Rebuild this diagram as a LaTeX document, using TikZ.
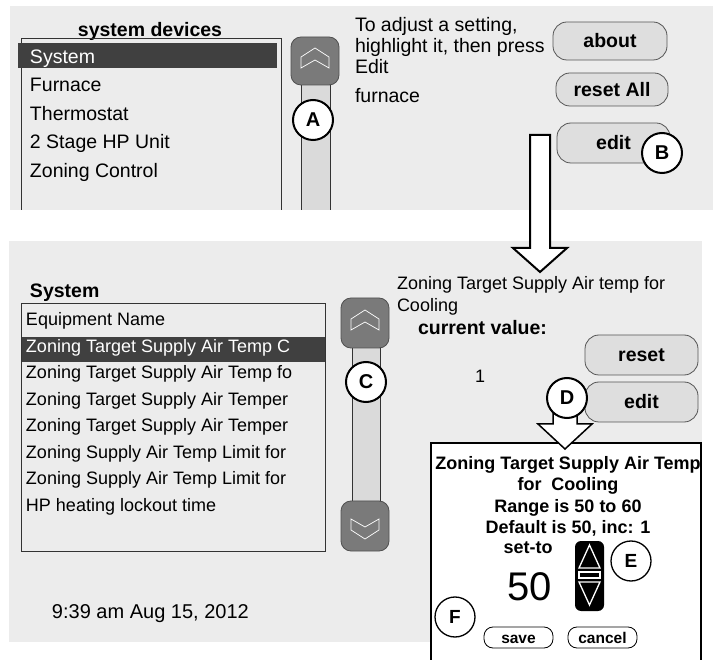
\documentclass[tikz,border=0pt]{standalone}
\usepackage{fontspec}
\setmainfont{Liberation Sans}
\definecolor{panel}{HTML}{ECECEC}
\definecolor{selbar}{HTML}{404040}
\definecolor{btnfill}{HTML}{DEDEDE}
\definecolor{btnline}{HTML}{555555}
\definecolor{sbfill}{HTML}{7A7A7A}
\definecolor{sbline}{HTML}{505050}
\definecolor{trackfill}{HTML}{DADADA}
\definecolor{boxline}{HTML}{333333}
\begin{document}
\begin{tikzpicture}[x=1pt,y=-1pt,
  every node/.style={inner sep=0pt, outer sep=0pt},
  regA/.style={font=\fontsize{19.5}{21}\selectfont, anchor=base west},
  regB/.style={font=\fontsize{18}{21}\selectfont, anchor=base west},
  boldtitle/.style={font=\fontsize{19.5}{23}\selectfont\bfseries},
  dlgtext/.style={font=\fontsize{18}{21}\selectfont\bfseries, anchor=base},
  btn/.style={draw=btnline, fill=btnfill, line width=0.8pt, rounded corners=14pt,
    font=\fontsize{19.5}{23}\selectfont\bfseries, text height=14pt, text depth=0pt},
  smallbtn/.style={draw=black, fill=white, line width=0.8pt, rounded corners=9pt,
    font=\fontsize{15.5}{18}\selectfont\bfseries, text height=11pt, text depth=0pt,
    minimum width=69pt, minimum height=21pt},
  sbtn/.style={draw=sbline, fill=sbfill, line width=0.8pt, rounded corners=10pt,
    minimum width=48pt},
  chev/.style={draw=white, line width=0.7pt, line join=miter},
  trackline/.style={draw=boxline, line width=1pt},
  tag/.style={circle, draw=black, fill=white, line width=2pt, minimum size=40pt,
    font=\fontsize{20}{24}\selectfont\bfseries},
  tagthin/.style={tag, line width=1.3pt, font=\fontsize{19}{23}\selectfont\bfseries},
  bigarrow/.style={draw=black, fill=white, line width=2pt, line join=miter},
]
\useasboundingbox (0,0) rectangle (713,660);

% ---------- top screen ----------
\fill[panel] (10,6) rectangle (713,210);
\node[boldtitle, anchor=base] (title1) at (150,37) {system devices};
\draw[draw=boxline, line width=1pt] (21,210) -- (21,39) -- (281,39) -- (281,210);
\fill[selbar] (18,43) rectangle (277,68);
\node[regA, text=white] (i1) at (30,63.5) {System};
\node[regA] (i2) at (30,92) {Furnace};
\node[regA] (i3) at (30,120.5) {Thermostat};
\node[regA] (i4) at (30,149) {2 Stage HP Unit};
\node[regA] (i5) at (30,177.5) {Zoning Control};

% scrollbar top
\fill[trackfill] (301,80) rectangle (330,210);
\draw[trackline] (301,210) -- (301,80);
\draw[trackline] (330,210) -- (330,80);
\node[sbtn, minimum height=48pt] (upA) at (315,61) {};
\begin{scope}[shift={(upA.north west)}]
  \draw[chev] (10,31) -- (10,20) -- (24,11) -- (38,20) -- (38,31) -- (24,23) -- cycle;
\end{scope}
\node[tag] (A) at (313,120) {A};

% top right
\node[regA] (tip1) at (355,32) {To adjust a setting,};
\node[regA] (tip2) at (355,53) {highlight it, then press};
\node[regA] (tip3) at (355,74) {Edit};
\node[regA] (dev) at (355,103) {furnace};
\node[btn, minimum width=114pt, minimum height=38pt] (about) at (610,41) {about};
\node[btn, minimum width=112pt, minimum height=33pt] (resetall) at (612,89.5) {reset All};
\node[btn, minimum width=113pt, minimum height=40pt] (edit1) at (613.5,143) {edit};
\node[tag] (B) at (662,153) {B};

% ---------- bottom screen ----------
\fill[panel] (9,241) rectangle (702,642);
\node[boldtitle, anchor=base west] (title2) at (30,298) {System};
\draw[draw=boxline, line width=1pt] (21,304) rectangle (325,551);
\fill[selbar] (22,337) rectangle (325,362);
\node[regB] (j1) at (26,326) {Equipment Name};
\node[regB, text=white] (j2) at (26,352.5) {Zoning Target Supply Air Temp C};
\node[regB] (j3) at (26,379) {Zoning Target Supply Air Temp fo};
\node[regB] (j4) at (26,405.5) {Zoning Target Supply Air Temper};
\node[regB] (j5) at (26,432) {Zoning Target Supply Air Temper};
\node[regB] (j6) at (26,458.5) {Zoning Supply Air Temp Limit for};
\node[regB] (j7) at (26,485) {Zoning Supply Air Temp Limit for};
\node[regB] (j8) at (26,511.5) {HP heating lockout time};

% scrollbar bottom
\fill[trackfill] (352,340) rectangle (380,510);
\draw[trackline] (352,340) -- (352,510);
\draw[trackline] (380,340) -- (380,510);
\node[sbtn, minimum height=50pt] (upC) at (365,323) {};
\begin{scope}[shift={(upC.north west)}]
  \draw[chev] (10,32) -- (10,21) -- (24,12) -- (38,21) -- (38,32) -- (24,24) -- cycle;
\end{scope}
\node[sbtn, minimum height=50pt] (downC) at (365,526) {};
\begin{scope}[shift={(downC.north west)}]
  \draw[chev] (10,18) -- (10,29) -- (24,38) -- (38,29) -- (38,18) -- (24,26) -- cycle;
\end{scope}
\node[tag] (C) at (366,382) {C};

% bottom right
\node[regB] (name) at (397,290) {Zoning Target Supply Air temp for};
\node[regB] (name2) at (397,312) {Cooling};
\node[boldtitle, anchor=base west] (cur) at (418,335) {current value:};
\node[regB] (val) at (475,383) {1};
\node[btn, minimum width=113pt, minimum height=40pt] (reset2) at (641.5,355) {reset};
\node[btn, minimum width=113pt, minimum height=40pt] (edit2) at (641.5,402) {edit};

% dialog
\fill[white] (431,443) rectangle (701,660);
\draw[line width=1.3pt] (431,660) -- (431,443) -- (701,443) -- (701,660);
\node[dlgtext] (d1) at (568,470) {Zoning Target Supply Air Temp};
\node[dlgtext] (d2) at (568,491) {for\ \ Cooling};
\node[dlgtext] (d3) at (568,512) {Range is 50 to 60};
\node[dlgtext] (d4) at (568,533) {Default is 50, inc: 1};
\node[dlgtext] (d5) at (528,553) {set-to};
\node[font=\fontsize{40}{44}\selectfont, anchor=base] (fifty) at (530,600) {50};
% spinner
\node[fill=black, rounded corners=6pt, minimum width=29pt, minimum height=70pt] (spin) at (589.5,576) {};
\begin{scope}[shift={(spin.north west)}]
  \draw[white, line width=1.3pt, line join=miter] (14.5,4) -- (25,27) -- (4,27) -- cycle;
  \draw[white, line width=1.3pt] (4,31) rectangle (25,37);
  \draw[white, line width=1.3pt, line join=miter] (4,41) -- (25,41) -- (14.5,64) -- cycle;
\end{scope}
\node[tagthin] (E) at (631,561) {E};
\node[tagthin] (F) at (455,617) {F};
\node[smallbtn] (save) at (518.5,637.5) {save};
\node[smallbtn] (cancel) at (602.5,637.5) {cancel};

% date
\node[font=\fontsize{20}{24}\selectfont, anchor=base west] (date) at (52,618) {9:39 am Aug 15, 2012};

% ---------- arrows ----------
\draw[bigarrow] (530,135) -- (550,135) -- (550,248) -- (567,248) -- (540,272)
  -- (513,248) -- (530,248) -- cycle;
\draw[bigarrow, line width=1.5pt] (553,405) -- (577,405) -- (577,424) -- (592,424)
  -- (565,449) -- (538,424) -- (553,424) -- cycle;
\node[tag] (D) at (567,398) {D};
\end{tikzpicture}
\end{document}
